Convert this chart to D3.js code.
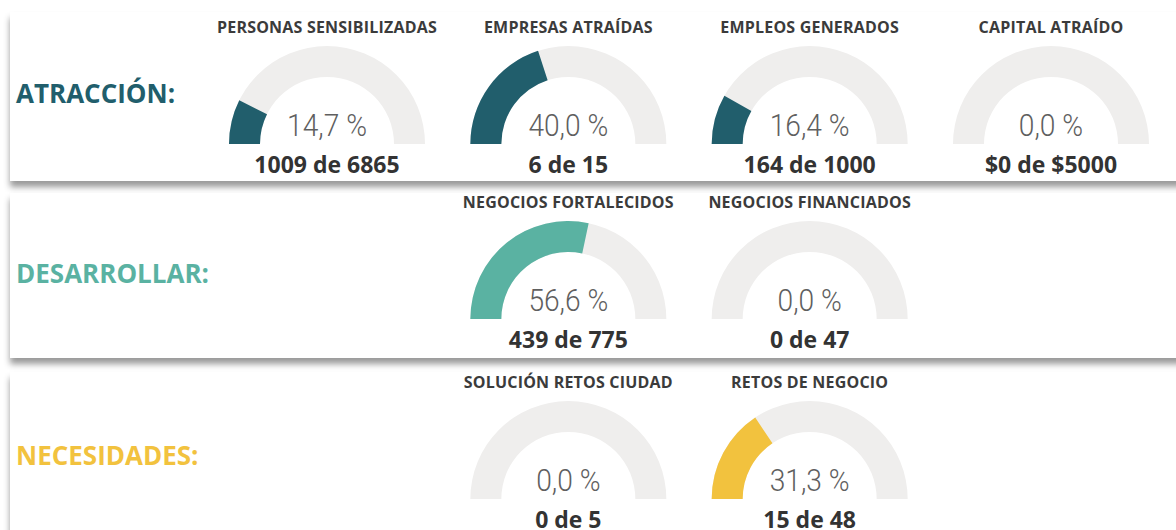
<!DOCTYPE html>
<html>
<head>
<meta charset="utf-8">
<script src="https://cdn.jsdelivr.net/npm/d3@7"></script>
<style>
  html, body { margin: 0; padding: 0; background: #fff; }
  svg { display: block; }
</style>
</head>
<body>
<svg id="chart" width="1176" height="530"></svg>
<script>
// data
const sections = ["ATRACCIÓN:", "DESARROLLAR:", "NECESIDADES:"];
const titles = ["PERSONAS SENSIBILIZADAS", "EMPRESAS ATRAÍDAS", "EMPLEOS GENERADOS", "CAPITAL ATRAÍDO",
                "NEGOCIOS FORTALECIDOS", "NEGOCIOS FINANCIADOS",
                "SOLUCIÓN RETOS CIUDAD", "RETOS DE NEGOCIO"];
const sectionOf = [0, 0, 0, 0, 1, 1, 2, 2];
const achieved = [1009, 6, 164, 0, 439, 0, 0, 15];
const targets = [6865, 15, 1000, 5000, 775, 47, 5, 48];
const units = ["", "", "", "$", "", "", "", ""];

// layout
const column = [0, 1, 2, 3, 1, 2, 1, 2];
const rowBase = [144, 319, 499];       // gauge baseline per section
const rowTop = [12, 193, 372];
const rowH = [169, 165, 170];
const labelBase = [103, 283, 465];
const sectionColor = ["#215e6c", "#5ab2a2", "#f2c23e"];
const trackColor = "#efeeed";

const W = 1176, H = 530;
const svg = d3.select("#chart");

const defs = svg.append("defs");
const f = defs.append("filter").attr("id", "shadow")
  .attr("x", "-5%").attr("y", "-10%").attr("width", "110%").attr("height", "130%");
f.append("feDropShadow").attr("dx", 0).attr("dy", 6).attr("stdDeviation", 3)
  .attr("flood-color", "#000").attr("flood-opacity", 0.4);

const x = d3.scaleLinear().domain([0, 3]).range([327, 1051]);
const angle = d3.scaleLinear().domain([0, 1]).range([-Math.PI / 2, Math.PI / 2]).clamp(true);
const outerR = 98, innerR = 67;
const arc = d3.arc().innerRadius(innerR).outerRadius(outerR);

const pct = d3.format(".1f");
const fmtPct = v => pct(v).replace(".", ",") + " %";

// panels
svg.append("g").selectAll("rect")
  .data(sections)
  .join("rect")
  .attr("x", 10)
  .attr("y", (d, i) => rowTop[i])
  .attr("width", W + 20)
  .attr("height", (d, i) => rowH[i])
  .attr("fill", "#fff")
  .attr("filter", "url(#shadow)");

// section labels
svg.append("g").selectAll("text")
  .data(sections)
  .join("text")
  .attr("x", 16)
  .attr("y", (d, i) => labelBase[i])
  .attr("fill", (d, i) => sectionColor[i])
  .attr("font-family", "Open Sans")
  .attr("font-weight", 700)
  .attr("font-size", 26)
  .text(d => d);

const items = titles.map((t, i) => ({
  title: t,
  sec: sectionOf[i],
  col: column[i],
  val: achieved[i],
  target: targets[i],
  unit: units[i],
  frac: achieved[i] / targets[i]
}));

const g = svg.append("g").selectAll("g")
  .data(items)
  .join("g")
  .attr("transform", d => `translate(${x(d.col)},${rowBase[d.sec]})`);

g.append("path")
  .attr("fill", trackColor)
  .attr("d", arc({ startAngle: angle(0), endAngle: angle(1) }));

g.filter(d => d.frac > 0).append("path")
  .attr("fill", d => sectionColor[d.sec])
  .attr("d", d => arc({ startAngle: angle(0), endAngle: angle(d.frac) }));

g.append("text")
  .attr("y", -111)
  .attr("text-anchor", "middle")
  .attr("fill", "#3b3b3b")
  .attr("font-family", "Open Sans")
  .attr("font-weight", 700)
  .attr("font-size", 16)
  .attr("letter-spacing", 0.2)
  .text(d => d.title);

g.append("text")
  .attr("y", -8)
  .attr("text-anchor", "middle")
  .attr("fill", "#5f5f5f")
  .attr("font-family", "Roboto")
  .attr("font-weight", 300)
  .attr("font-size", 32)
  .attr("transform", "scale(0.88,1)")
  .text(d => fmtPct(d.frac * 100));

g.append("text")
  .attr("y", 29)
  .attr("text-anchor", "middle")
  .attr("fill", "#333")
  .attr("font-family", "Open Sans")
  .attr("font-weight", 700)
  .attr("font-size", 23)
  .text(d => `${d.unit}${d.val} de ${d.unit}${d.target}`);
</script>
</body>
</html>
